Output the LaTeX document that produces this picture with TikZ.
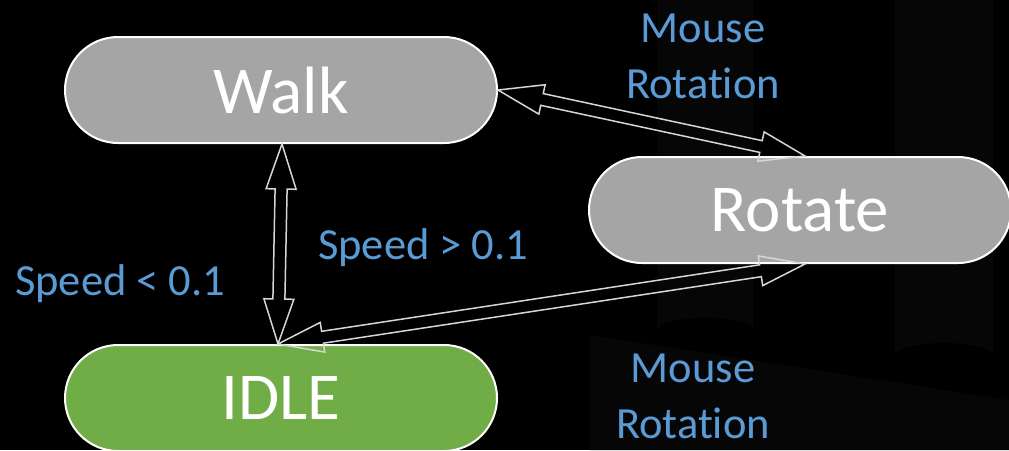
\documentclass[tikz,border=0pt]{standalone}
\usepackage{fontspec}
\setmainfont{Carlito}[Ligatures=NoCommon]
\usetikzlibrary{calc}
\definecolor{nodegray}{HTML}{A5A5A5}
\definecolor{nodegreen}{HTML}{70AD47}
\definecolor{lblblue}{HTML}{5B9BD5}
\definecolor{arrgray}{HTML}{D6D6D6}
\definecolor{faint}{HTML}{060606}
\def\HL{45}\def\HW{15}\def\SW{6}
\newcommand\dblarr[2]{%
\draw[arrowline] let \p1=($(#2)-(#1)$), \n1={veclen(\x1,\y1)}, \n2={atan2(\y1,\x1)}, \n3={\n1-\HL}, \n4={\n2+90} in
(#1) -- ($(#1)+(\n2:\HL pt)+(\n4:\HW pt)$) -- ($(#1)+(\n2:\HL pt)+(\n4:\SW pt)$)
 -- ($(#1)+(\n2:\n3)+(\n4:\SW pt)$) -- ($(#1)+(\n2:\n3)+(\n4:\HW pt)$) -- (#2)
 -- ($(#1)+(\n2:\n3)+(\n4:-\HW pt)$) -- ($(#1)+(\n2:\n3)+(\n4:-\SW pt)$)
 -- ($(#1)+(\n2:\HL pt)+(\n4:-\SW pt)$) -- ($(#1)+(\n2:\HL pt)+(\n4:-\HW pt)$) -- cycle;}
\tikzset{
  state/.style={draw=white, line width=2pt, rounded corners=53pt,
    minimum width=432pt, minimum height=106pt, inner sep=0pt,
    text=white, font=\fontsize{67}{70}\selectfont},
  lbl/.style={text=lblblue, font=\fontsize{44.5}{56}\selectfont, align=center, inner sep=0pt},
  arrowline/.style={draw=arrgray, line width=1.5pt, line join=miter}
}
\begin{document}
\begin{tikzpicture}[x=1pt,y=-1pt]
\fill[black] (0,0) rectangle (1009,450);
\useasboundingbox (0,0) rectangle (1009,450);
% faint background shapes
\fill[faint] (657,0) -- (657,330) arc[x radius=48, y radius=12, start angle=180, end angle=360] -- (753,0) -- cycle;
\fill[faint] (895,0) -- (895,355) arc[x radius=49, y radius=12, start angle=180, end angle=360] -- (993,0) -- cycle;
\fill[faint] (590,335) -- (1009,400) -- (1009,450) -- (590,450) -- cycle;
% states
\node[state, fill=nodegray] (Walk) at (281,90) {Walk};
\node[state, fill=nodegray, minimum width=422pt] (Rotate) at (800,210) {Rotate};
\node[state, fill=nodegreen] (IDLE) at (281,398) {IDLE};
% anchors for connectors
\coordinate (wb) at ($(Walk.south)+(1,0)$);
\coordinate (it) at ($(IDLE.north)+(-3,0)$);
\coordinate (rt) at ($(Rotate.north)+(5,0)$);
\coordinate (rb) at ($(Rotate.south)+(5,0)$);
% connectors
\dblarr{wb}{it}
\dblarr{Walk.east}{rt}
\dblarr{it}{rb}
% labels
\node[lbl, anchor=base] (l1) at (703,98) {Mouse\\Rotation};
\node[lbl, anchor=base west] (l2) at (318,259) {Speed > 0.1};
\node[lbl, anchor=base west] (l3) at (15,295) {Speed < 0.1};
\node[lbl, anchor=base] (l4) at (693,438) {Mouse\\Rotation};
\end{tikzpicture}
\end{document}
